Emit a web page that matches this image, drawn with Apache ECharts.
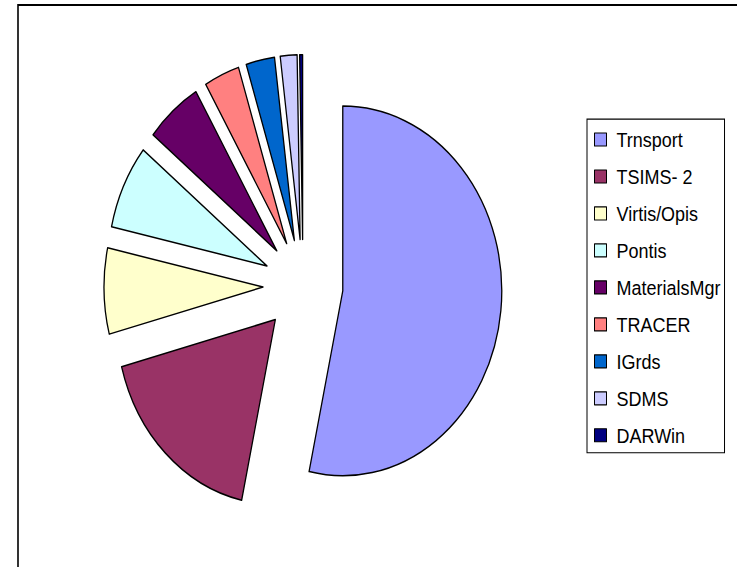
<!DOCTYPE html>
<html>
<head>
<meta charset="utf-8">
<title>Pie</title>
<script src="https://cdn.jsdelivr.net/npm/echarts@6/dist/echarts.min.js"></script>
<style>
  html, body { margin: 0; padding: 0; background: #fff; overflow: hidden; }
  #wrap { width: 737px; height: 567px; overflow: hidden; }
  /* the source picture is stretched vertically, so the pie is an ellipse */
  #chart { width: 737px; height: 487.7px; transform: scaleY(1.1626); transform-origin: 0 0; }
</style>
</head>
<body>
<div id="wrap"><div id="chart"></div></div>
<script>
// share of each system
var names = ['Trnsport', 'TSIMS- 2', 'Virtis/Opis', 'Pontis', 'MaterialsMgr', 'TRACER', 'IGrds', 'SDMS', 'DARWin'];
var values = [53.4, 17.5, 7.5, 7.4, 5.7, 3.6, 2.9, 1.7, 0.3];
var colors = ['#9999FF', '#993366', '#FFFFCC', '#CCFFFF', '#660066', '#FF8080', '#0066CC', '#CCCCFF', '#000080'];

var myChart = echarts.init(document.getElementById('chart'), null, { renderer: 'svg' });

var data = names.map(function (n, i) {
  return { name: n, value: values[i], selected: true, itemStyle: { color: colors[i] } };
});

myChart.setOption({
  animation: false,
  color: colors,
  graphic: [{
    type: 'rect',
    shape: { x: 18, y: 4.3, width: 800, height: 600 },
    style: { fill: 'none', stroke: '#000', lineWidth: 1.6 },
    silent: true
  }],
  legend: {
    orient: 'vertical',
    left: 587,
    top: 102.4,
    padding: [7.6, 4, 5, 7],
    backgroundColor: '#fff',
    borderColor: '#000',
    borderWidth: 1,
    icon: 'rect',
    itemWidth: 12,
    itemHeight: 11.2,
    itemGap: 11.8,
    selectedMode: false,
    itemStyle: { borderColor: '#000', borderWidth: 1 },
    textStyle: {
      fontFamily: 'Liberation Sans, Arial, sans-serif',
      fontSize: 18,
      lineHeight: 20,
      color: '#000',
      padding: [0, 0, 0, 5]
    },
    data: names
  },
  series: [{
    type: 'pie',
    center: [303, 246],
    radius: 159,
    startAngle: 90,
    clockwise: true,
    selectedMode: 'multiple',
    selectedOffset: 40,
    label: { show: false },
    labelLine: { show: false },
    emphasis: { disabled: true },
    itemStyle: { borderColor: '#000', borderWidth: 1.3 },
    data: data
  }]
});
</script>
</body>
</html>
